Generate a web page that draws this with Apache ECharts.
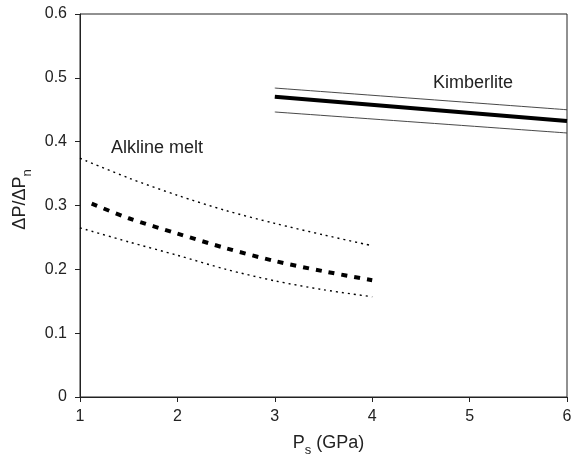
<!DOCTYPE html>
<html><head><meta charset="utf-8">
<script src="https://cdn.jsdelivr.net/npm/echarts@6/dist/echarts.min.js"></script>
<style>html,body{margin:0;padding:0;background:#fff}#c{width:571px;height:457px}</style>
</head><body><div id="c"></div>
<script>
// Data
const alkX = [1.0, 1.5, 2.0, 2.5, 3.0, 3.5, 4.0];
const alkUpper = [0.374, 0.343, 0.316, 0.292, 0.272, 0.254, 0.237];
const alkMidX = [1.12, 1.5, 2.0, 2.5, 3.0, 3.5, 4.0];
const alkMid = [0.303, 0.280, 0.256, 0.233, 0.213, 0.197, 0.183];
const alkLower = [0.265, 0.243, 0.222, 0.200, 0.182, 0.168, 0.157];
const kimX = [3.0, 6.0];
const kimUpper = [0.484, 0.450];
const kimMid = [0.4705, 0.4325];
const kimLower = [0.4465, 0.4136];
const xTicks = [1, 2, 3, 4, 5, 6];
const yTicks = [0, 0.1, 0.2, 0.3, 0.4, 0.5, 0.6];

const zip = (xs, ys) => xs.map((x, i) => [x, ys[i]]);
const FONT = 'Liberation Sans, Arial, sans-serif';
function line(data, width, type, color) {
  return { type: 'line', data: data, showSymbol: false, symbol: 'none', smooth: 0.3,
    lineStyle: { color: color || '#000', width: width, type: type }, silent: true, animation: false };
}
const nameRich = {
  a: { fontFamily: FONT, fontSize: 18, color: '#222', lineHeight: 22, verticalAlign: 'bottom' },
  s: { fontFamily: FONT, fontSize: 13, color: '#222', lineHeight: 16, verticalAlign: 'bottom', padding: [0, 0, -5, 0] }
};
const chart = echarts.init(document.getElementById('c'), null, { renderer: 'canvas' });
chart.setOption({
  animation: false,
  grid: { left: 80, right: 4, top: 14, bottom: 60, show: true, borderColor: '#222', borderWidth: 1,
    outerBoundsMode: 'none', containLabel: false },
  xAxis: {
    type: 'value', min: xTicks[0], max: xTicks[xTicks.length - 1], interval: 1,
    name: '{a|P}{s|s}{a| (GPa)}', nameLocation: 'middle', nameGap: 33,
    nameTextStyle: { rich: nameRich, padding: [0, 0, 0, 10] },
    axisLine: { show: true, lineStyle: { color: '#222', width: 1 } },
    axisTick: { show: true, inside: false, length: 5, lineStyle: { color: '#222' } },
    axisLabel: { fontFamily: FONT, fontSize: 16, color: '#222', margin: 12 },
    splitLine: { show: false }
  },
  yAxis: {
    type: 'value', min: 0, max: 0.6, interval: 0.1,
    name: '{a|ΔP/ΔP}{s|n}', nameLocation: 'middle', nameGap: 50, nameRotate: 90,
    nameTextStyle: { rich: nameRich, padding: [0, 0, 0, 12] },
    axisLine: { show: true, lineStyle: { color: '#222', width: 1 } },
    axisTick: { show: true, inside: false, length: 5, lineStyle: { color: '#222' } },
    axisLabel: { fontFamily: FONT, fontSize: 16, color: '#222', margin: 13,
      formatter: v => yTicks.includes(Math.round(v * 10) / 10) ? String(Math.round(v * 10) / 10) : '' },
    splitLine: { show: false }
  },
  graphic: [
    { type: 'text', left: 111, top: 139, style: { text: 'Alkline melt', fontFamily: FONT, fontSize: 18, fill: '#222' } },
    { type: 'text', left: 433, top: 74, style: { text: 'Kimberlite', fontFamily: FONT, fontSize: 18, fill: '#222' } }
  ],
  series: [
    line(zip(alkX, alkUpper), 1.4, [2, 4]),
    line(zip(alkMidX, alkMid), 4, [6, 7]),
    line(zip(alkX, alkLower), 1.4, [2, 4]),
    line(zip(kimX, kimUpper), 0.9, 'solid', '#333'),
    line(zip(kimX, kimMid), 4, 'solid'),
    line(zip(kimX, kimLower), 0.9, 'solid', '#333')
  ]
});
</script></body></html>
